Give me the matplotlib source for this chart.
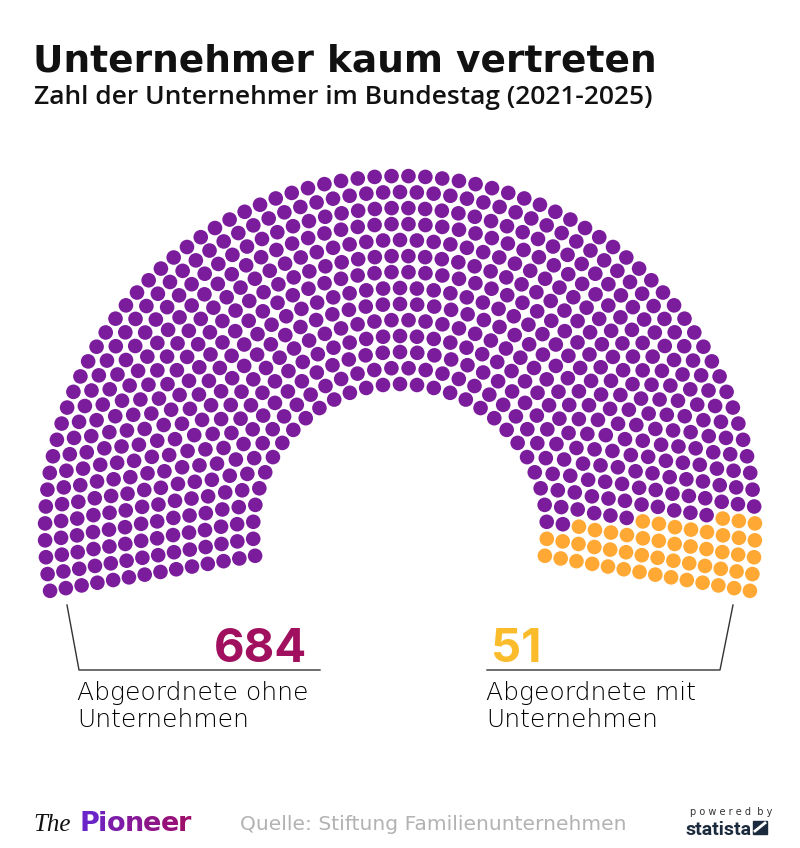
import numpy as np
import matplotlib.pyplot as plt
from matplotlib.patches import Circle, Rectangle
from matplotlib.collections import PatchCollection

# data
groups = ["Abgeordnete ohne\nUnternehmen", "Abgeordnete mit\nUnternehmen"]
seats = [684, 51]
seat_colors = ["#7a1c9c", "#ffa834"]
number_colors = ["#a0105e", "#fbbc2c"]
n_rows = 14

W, H = 800, 848
fig = plt.figure(figsize=(W / 100, H / 100), dpi=100)
ax = fig.add_axes([0, 0, 1, 1])
ax.set_xlim(0, W)
ax.set_ylim(H, 0)
ax.set_aspect("equal")
ax.axis("off")


def hemicycle(total, rows, r_in, r_out, a0, a1):
    radii = np.linspace(r_in, r_out, rows)
    share = total * radii / radii.sum()
    per_row = np.floor(share).astype(int)
    rest = total - per_row.sum()
    per_row[np.argsort(-(share - per_row))[:rest]] += 1
    pts = []
    for r, n in zip(radii, per_row):
        for a in np.linspace(a0, a1, n):
            pts.append((a, r))
    pts.sort(key=lambda p: -p[0])
    return pts


cx, cy = 400, 531
tilt = np.deg2rad(9.7)
pts = hemicycle(sum(seats), n_rows, 147, 355, np.pi + tilt, -tilt)

bounds = np.cumsum([0] + seats)
for k, col in enumerate(seat_colors):
    circles = []
    for a, r in pts[bounds[k]:bounds[k + 1]]:
        circles.append(Circle((cx + r * np.cos(a), cy - r * np.sin(a)), 7.3))
    ax.add_collection(PatchCollection(circles, facecolor=col, edgecolor="none"))

# title
ax.text(33, 72, "Unternehmer kaum vertreten", fontsize=27, fontweight="bold",
        family="DejaVu Sans", color="#111111", va="baseline")
ax.text(34, 104, "Zahl der Unternehmer im Bundestag (2021-2025)", fontsize=19,
        fontweight="semibold", family="Open Sans", color="#111111", va="baseline")

# callouts
line_kw = dict(color="#333333", lw=1)
ax.plot([67, 79, 320], [605, 670, 670], **line_kw)
ax.plot([733, 720, 487], [605, 670, 670], **line_kw)

ax.text(307, 662, str(seats[0]), fontsize=34, fontweight="bold", family="Inter",
        color=number_colors[0], ha="right", va="baseline")
ax.text(491, 662, str(seats[1]), fontsize=34, fontweight="bold", family="Inter",
        color=number_colors[1], ha="left", va="baseline")

ax.text(77, 681, groups[0], fontsize=18, fontweight="light", family="DejaVu Sans",
        color="#000000", va="top", linespacing=1.17)
ax.text(486, 681, groups[1], fontsize=18, fontweight="light", family="DejaVu Sans",
        color="#000000", va="top", linespacing=1.17)

# footer
ax.text(33, 831, "The", fontsize=18, family="Liberation Serif", style="italic",
        color="#111111", va="baseline")
fig.canvas.draw()
r = fig.canvas.get_renderer()
x = 79
pio_cols = ["#6a24c8", "#7320b8", "#7d1ca8", "#871898", "#8e1588", "#96127a", "#9c106c"]
for ch, c in zip("Pioneer", pio_cols):
    t = ax.text(x, 831, ch, fontsize=19.5, fontweight="heavy", family="DejaVu Sans",
                color=c, va="baseline")
    bb = t.get_window_extent(r)
    x += bb.width - 0.8

ax.text(240, 830, "Quelle: Stiftung Familienunternehmen", fontsize=14.6,
        family="DejaVu Sans", color="#b3b3b3", va="baseline")

ax.text(690, 815, "p o w e r e d  b y", fontsize=7, family="DejaVu Sans",
        color="#333333", va="baseline")
ax.text(686, 835, "statista", fontsize=14, fontweight="bold", family="Roboto",
        color="#1b2a3c", va="baseline", stretch="condensed")
ax.add_patch(Rectangle((753, 821), 14, 13, color="#1b2a3c"))
ax.plot([755, 765], [831, 823], color="white", lw=2)

fig.savefig("out.png", dpi=100, facecolor="white")
